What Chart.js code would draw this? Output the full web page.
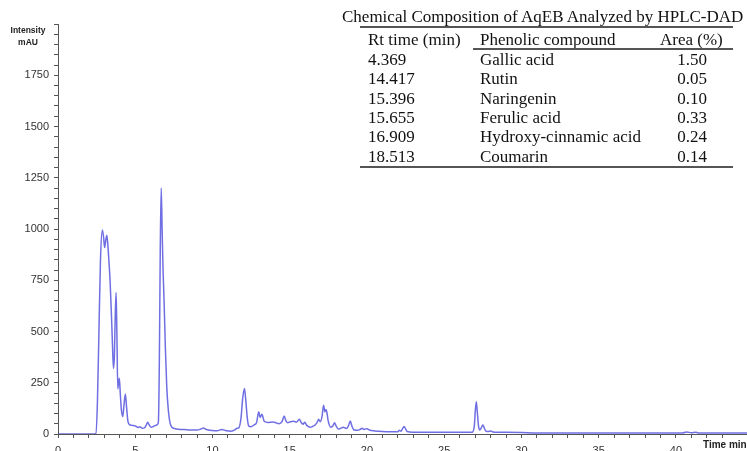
<!DOCTYPE html>
<html>
<head>
<meta charset="utf-8">
<script src="https://cdn.jsdelivr.net/npm/chart.js@4.4.1/dist/chart.umd.min.js"></script>
<style>
    html, body { margin: 0; padding: 0; background: #fff; overflow: hidden; }
    #wrap { position: relative; width: 747px; height: 451px; overflow: hidden; }
    #chart { position: absolute; left: 0; top: 0; }
    .ylab { position: absolute; font: bold 8.5px "Liberation Sans", Arial, sans-serif; color: #222; text-align: center; width: 40px; left: 8px; }
    #xlab { position: absolute; left: 703px; top: 439px; font: bold 10px "Liberation Sans", Arial, sans-serif; color: #222; white-space: nowrap; }
    #tbl { position: absolute; left: 0; top: 0; font-family: "Liberation Serif", "Times New Roman", serif; color: #111; }
    #tbl div { position: absolute; white-space: nowrap; font-size: 17px; line-height: 20px; }
    #tbl .rule { background: #555; height: 1.5px; }
</style>
</head>
<body>
<div id="wrap">
    <canvas id="chart" width="747" height="456"></canvas>
    <div class="ylab" style="top:25px">Intensity</div>
    <div class="ylab" style="top:37px">mAU</div>
    <div id="xlab">Time min</div>
    <div id="tbl"></div>
</div>
<script>
/* ---------- chromatogram trace ---------- */
const rtMinutes = [
    0, 2.3, 2.45, 2.55, 2.65, 2.75, 2.87, 2.95, 3.02, 3.1, 3.16, 3.22, 3.3, 3.37, 3.45, 3.52,
    3.59, 3.65, 3.7, 3.76, 3.81, 3.87, 3.92, 3.97, 4.03, 4.1, 4.19, 4.27, 4.36, 4.44, 4.52, 4.6,
    4.8, 5.0, 5.2, 5.3, 5.45, 5.6, 5.72, 5.81, 5.9, 6.03, 6.2, 6.4, 6.5, 6.56, 6.62, 6.68,
    6.74, 6.8, 6.87, 6.95, 7.04, 7.15, 7.26, 7.47, 8.0, 8.5, 9.0, 9.25, 9.42, 9.6, 10.0, 10.3,
    10.6, 10.9, 11.2, 11.45, 11.58, 11.7, 11.85, 11.95, 12.07, 12.15, 12.25, 12.35, 12.5, 12.7, 12.85, 13.0,
    13.08, 13.2, 13.35, 13.6, 13.9, 14.1, 14.3, 14.5, 14.64, 14.75, 14.86, 15.05, 15.25, 15.45, 15.62, 15.75,
    15.86, 15.97, 16.1, 16.34, 16.5, 16.66, 16.8, 16.87, 16.98, 17.1, 17.19, 17.28, 17.35, 17.42, 17.48, 17.67,
    17.8, 17.9, 18.0, 18.16, 18.3, 18.48, 18.66, 18.8, 18.92, 19.02, 19.14, 19.4, 19.55, 19.68, 19.81, 19.92,
    20.0, 20.2, 20.5, 21.0, 21.5, 22.0, 22.1, 22.2, 22.3, 22.4, 22.5, 22.6, 23.0, 24.0, 25.0, 26.0,
    26.8, 26.95, 27.02, 27.08, 27.15, 27.22, 27.3, 27.4, 27.5, 27.6, 27.7, 27.85, 28.0, 28.15, 29.0, 30.0,
    31.0, 35.0, 40.4, 40.7, 41.0, 41.3, 41.5, 44.6
];
const intensityMau = [
    0, 0, 2, 150, 500, 850, 995, 960, 910, 950, 970, 930, 840, 750, 600, 450,
    320, 380, 560, 690, 500, 220, 250, 272, 200, 120, 85, 140, 195, 130, 65, 48,
    42, 39, 32, 35, 28, 30, 45, 57, 45, 33, 38, 44, 60, 350, 900, 1200,
    1000, 800, 640, 420, 230, 110, 52, 28, 22, 20, 19, 24, 29, 22, 17, 16,
    22, 16, 14, 20, 28, 30, 80, 170, 222, 170, 80, 38, 35, 45, 55, 108,
    80, 96, 62, 56, 58, 55, 50, 60, 88, 65, 55, 60, 62, 58, 72, 55,
    48, 57, 42, 33, 38, 45, 60, 72, 60, 90, 140, 108, 120, 100, 68, 33,
    40, 55, 40, 24, 28, 33, 27, 40, 63, 40, 21, 18, 22, 28, 22, 25,
    26, 18, 15, 12, 11, 11, 18, 14, 25, 36, 25, 12, 9, 8, 8, 8,
    8, 40, 120, 157, 100, 40, 20, 30, 44, 28, 14, 12, 15, 10, 8, 7,
    5, 5, 5, 10, 6, 8, 5, 5
];

/* ---------- inset table ---------- */
const tableTitle = "Chemical Composition of AqEB Analyzed by HPLC-DAD";
const tableHeads = ["Rt time (min)", "Phenolic compound", "Area (%)"];
const rtTimes = ["4.369", "14.417", "15.396", "15.655", "16.909", "18.513"];
const compounds = ["Gallic acid", "Rutin", "Naringenin", "Ferulic acid", "Hydroxy-cinnamic acid", "Coumarin"];
const areas = ["1.50", "0.05", "0.10", "0.33", "0.24", "0.14"];

const yLabelTicks = [0, 250, 500, 750, 1000, 1250, 1500, 1750];

function el(text, css, cls) {
    const d = document.createElement("div");
    d.textContent = text;
    d.style.cssText = css;
    if (cls) d.className = cls;
    document.getElementById("tbl").appendChild(d);
    return d;
}

el(tableTitle, "left:342px;top:7px;");
el("", "left:360px;top:26px;width:373px;", "rule");
el(tableHeads[0], "left:368px;top:30px;");
el(tableHeads[1], "left:480px;top:30px;");
el(tableHeads[2], "left:660px;top:30px;");
el("", "left:473px;top:48px;width:260px;", "rule");
rtTimes.forEach((rt, i) => {
    const top = 50 + i * 19.35;
    el(rt, `left:368px;top:${top}px;`);
    el(compounds[i], `left:480px;top:${top}px;`);
    el(areas[i], `left:660px;top:${top}px;width:47px;text-align:right;`);
});
el("", "left:360px;top:166px;width:373px;", "rule");

/* ---------- chart ---------- */
const points = rtMinutes.map((t, i) => ({ x: t, y: intensityMau[i] }));

new Chart(document.getElementById("chart"), {
    type: "line",
    data: {
        datasets: [{
            data: points,
            borderColor: "rgba(75, 75, 220, 0.8)",
            borderWidth: 1.5,
            pointRadius: 0,
            cubicInterpolationMode: "monotone",
            fill: false
        }]
    },
    options: {
        responsive: false,
        animation: false,
        layout: { padding: { top: 24, right: 0, bottom: 0, left: 0 } },
        plugins: { legend: { display: false }, tooltip: { enabled: false } },
        scales: {
            x: {
                type: "linear",
                min: 0,
                max: 44.6,
                // fixed height, and drop the side padding that tick padding adds
                afterFit: s => { s.height = 22; s.paddingLeft = 0; s.paddingRight = 0; },
                border: { color: "#555", width: 1 },
                grid: { display: true, drawOnChartArea: false, drawTicks: true, tickLength: 4, color: "#555" },
                ticks: {
                    stepSize: 1,
                    autoSkip: false,
                    maxRotation: 0,
                    padding: 6,
                    color: "#333",
                    font: { family: "'Liberation Sans', Arial, sans-serif", size: 11 },
                    callback: v => (v % 5 === 0 && v <= 40 ? String(v) : "")
                }
            },
            y: {
                min: 0,
                max: 2000,
                afterFit: s => { s.width = 58; },
                border: { color: "#555", width: 1 },
                grid: { display: true, drawOnChartArea: false, drawTicks: true, tickLength: 4, color: "#555" },
                ticks: {
                    stepSize: 50,
                    autoSkip: false,
                    padding: 5,
                    color: "#333",
                    font: { family: "'Liberation Sans', Arial, sans-serif", size: 11 },
                    callback: v => (yLabelTicks.includes(v) ? String(v) : "")
                }
            }
        }
    }
});
</script>
</body>
</html>
